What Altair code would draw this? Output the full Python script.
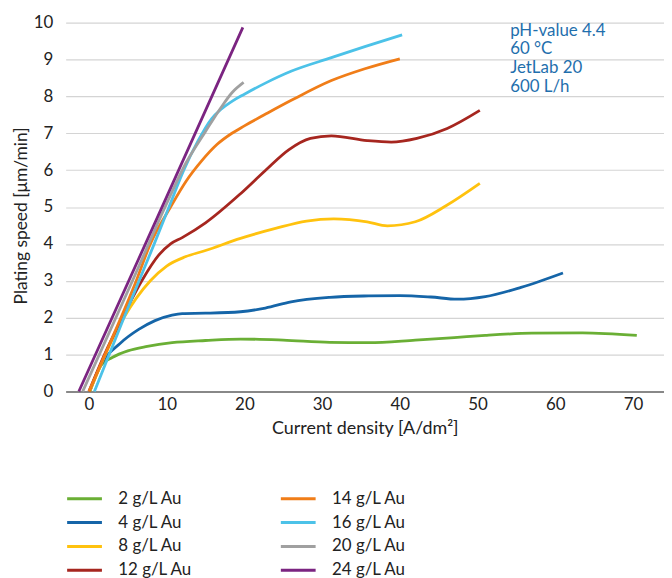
import altair as alt
import pandas as pd

FONT = "Lato"

series_names = ["2 g/L Au", "4 g/L Au", "8 g/L Au", "12 g/L Au",
                "14 g/L Au", "16 g/L Au", "20 g/L Au", "24 g/L Au"]
series_colors = ["#6aaf35", "#1565a8", "#ffc20e", "#a6261f",
                 "#f07d18", "#4cc2e8", "#a0a0a0", "#7b2481"]

x_2 = [0.1, 1.6, 3.0, 5.0, 7.5, 10.7, 15.0, 19.5, 25.0, 31.0, 36.0, 42.0, 47.0, 51.0, 57.0, 63.5, 70.5]
y_2 = [0.0, 0.72, 0.92, 1.1, 1.22, 1.32, 1.38, 1.42, 1.39, 1.33, 1.32, 1.39, 1.46, 1.52, 1.58, 1.59, 1.52]

x_4 = [0.1, 1.6, 4.0, 6.4, 8.5, 10.7, 12.0, 15.0, 19.5, 22.7, 26.0, 31.0, 36.0, 40.0, 44.0, 47.4, 51.0, 55.6, 61.0]
y_4 = [0.0, 0.75, 1.3, 1.68, 1.92, 2.07, 2.11, 2.12, 2.16, 2.26, 2.43, 2.55, 2.59, 2.6, 2.56, 2.5, 2.57, 2.82, 3.21]

x_8 = [0.1, 2.0, 4.5, 7.9, 10.0, 12.4, 15.0, 19.5, 24.0, 28.0, 31.5, 35.8, 38.4, 42.0, 46.0, 50.3]
y_8 = [0.0, 0.95, 2.0, 3.0, 3.4, 3.65, 3.82, 4.15, 4.42, 4.62, 4.68, 4.6, 4.49, 4.6, 5.04, 5.64]

x_12 = [0.0, 2.0, 4.3, 6.8, 9.0, 10.5, 12.0, 15.0, 19.5, 22.7, 25.7, 28.5, 31.2, 35.8, 38.9, 42.2, 46.1, 50.3]
y_12 = [0.0, 1.0, 2.0, 3.0, 3.7, 4.0, 4.17, 4.57, 5.36, 5.99, 6.55, 6.86, 6.93, 6.8, 6.76, 6.86, 7.13, 7.62]

x_14 = [0.0, 3.0, 6.0, 7.9, 10.5, 12.5, 14.5, 16.5, 18.4, 20.0, 23.0, 26.1, 31.2, 35.5, 40.0]
y_14 = [0.0, 1.45, 2.95, 4.0, 5.0, 5.7, 6.25, 6.7, 7.0, 7.2, 7.55, 7.9, 8.43, 8.75, 9.02]

x_16 = [0.7, 4.5, 8.4, 10.3, 12.2, 14.0, 15.8, 17.0, 18.5, 20.0, 22.7, 26.0, 31.2, 35.5, 40.3]
y_16 = [0.0, 2.0, 4.0, 5.0, 6.0, 6.78, 7.4, 7.65, 7.88, 8.06, 8.36, 8.68, 9.05, 9.35, 9.67]

x_20 = [-0.8, 5.6, 9.8, 12.5, 15.0, 17.0, 18.4, 19.9]
y_20 = [0.0, 3.0, 5.0, 6.2, 7.05, 7.7, 8.1, 8.38]

x_24 = [-1.3, 9.3, 19.8]
y_24 = [0.0, 4.95, 9.87]

xs = [x_2, x_4, x_8, x_12, x_14, x_16, x_20, x_24]
ys = [y_2, y_4, y_8, y_12, y_14, y_16, y_20, y_24]

x_ticks = [0, 10, 20, 30, 40, 50, 60, 70]
y_ticks = [0, 1, 2, 3, 4, 5, 6, 7, 8, 9, 10]

note_lines = ["pH-value 4.4", "60 °C", "JetLab 20", "600 L/h"]
note_x = [54.2]
note_y = [10.0]

rows = []
for i, (name, xv, yv) in enumerate(zip(series_names, xs, ys)):
    for a, b in zip(xv, yv):
        rows.append({"series": name, "order": i, "x": a, "y": b})
df = pd.DataFrame(rows)

x_scale = alt.Scale(domain=[-3, 74], nice=False, zero=False)
y_scale = alt.Scale(domain=[0, 10], nice=False)

x_axis = alt.Axis(values=x_ticks, title="Current density [A/dm²]", grid=False,
                  ticks=False, domain=True, domainColor="#888888", domainWidth=2,
                  labelFontSize=17, labelFont=FONT, labelColor="#222222",
                  labelPadding=5, titleFont=FONT, titleFontSize=18,
                  titleFontWeight="normal", titleColor="#222222", titlePadding=7)
y_axis = alt.Axis(values=y_ticks, title="Plating speed [μm/min]", grid=True,
                  gridColor="#d4d4d4", gridWidth=1.2, ticks=False, domain=False,
                  labelFontSize=17, labelFont=FONT, labelColor="#222222",
                  labelPadding=13, labelOverlap=False, titleFont=FONT, titleFontSize=17.5,
                  titleFontWeight="normal", titleColor="#222222", titlePadding=3,
                  titleY=194)

lines = alt.Chart(df).mark_line(strokeWidth=2.8, interpolate="monotone").encode(
    x=alt.X("x:Q", scale=x_scale, axis=x_axis),
    y=alt.Y("y:Q", scale=y_scale, axis=y_axis),
    color=alt.Color("series:N",
                    scale=alt.Scale(domain=series_names, range=series_colors),
                    legend=alt.Legend(orient="none", legendX=0, legendY=469, columns=2,
                                      title=None, symbolType="stroke", symbolSize=1225,
                                      symbolStrokeWidth=3, labelFontSize=17, labelFont=FONT,
                                      labelColor="#222222", labelOffset=15,
                                      clipHeight=20, columnPadding=87, rowPadding=4)),
    detail="series:N",
    order="order:Q",
)

note_df = pd.DataFrame({"x": note_x, "y": note_y, "text": ["\n".join(note_lines)]})
note = alt.Chart(note_df).mark_text(
    align="left", baseline="top", fontSize=17, font=FONT, color="#1f6fad",
    lineHeight=19, lineBreak="\n"
).encode(x=alt.X("x:Q", scale=x_scale, axis=x_axis),
         y=alt.Y("y:Q", scale=y_scale, axis=y_axis), text="text:N")

chart = alt.layer(lines, note).properties(
    width=602, height=371,
    autosize=alt.AutoSizeParams(type="none"),
    padding={"left": 58, "top": 13, "right": 0, "bottom": 186},
).configure_view(stroke=None)

chart.save("out.html", embed_options={"renderer": "svg", "actions": False})
